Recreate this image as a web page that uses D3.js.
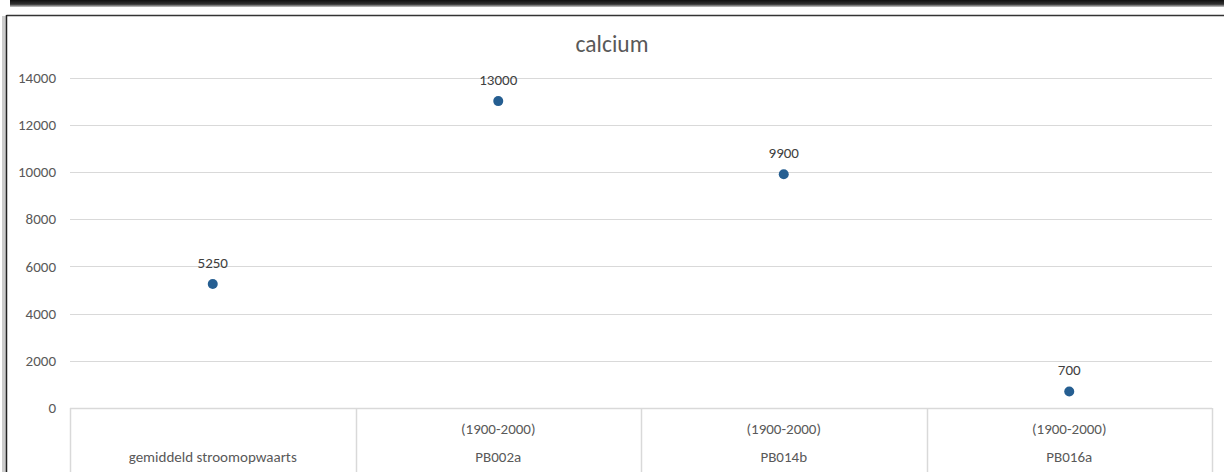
<!DOCTYPE html>
<html><head><meta charset="utf-8">
<script src="https://cdn.jsdelivr.net/npm/d3@7"></script>
<style>body{margin:0;background:#fff}svg{display:block}</style>
</head><body>
<svg id="c" width="1224" height="472"></svg>
<script>
const title = "calcium";
const categories = ["gemiddeld stroomopwaarts", "PB002a", "PB014b", "PB016a"];
const subLabels = ["", "(1900-2000)", "(1900-2000)", "(1900-2000)"];
const values = [5250, 13000, 9900, 700];
const yTicks = [0, 2000, 4000, 6000, 8000, 10000, 12000, 14000];

(function(){
const svg = d3.select("#c");
const font = "Carlito, 'Open Sans', 'Liberation Sans', sans-serif";

// frame decoration
const defs = svg.append("defs");
const g1 = defs.append("linearGradient").attr("id","topg").attr("x1",0).attr("y1",0).attr("x2",0).attr("y2",1);
g1.append("stop").attr("offset","0").attr("stop-color","#111");
g1.append("stop").attr("offset","0.6").attr("stop-color","#333");
g1.append("stop").attr("offset","1").attr("stop-color","#ccc");
svg.append("rect").attr("x",10).attr("y",0).attr("width",1214).attr("height",7).attr("fill","url(#topg)");
svg.append("rect").attr("x",2).attr("y",16).attr("width",5).attr("height",456).attr("fill","#ccc");
svg.append("line").attr("x1",6.5).attr("x2",1224).attr("y1",15.5).attr("y2",15.5).attr("stroke","#333").attr("stroke-width",1.5);
svg.append("line").attr("x1",6.5).attr("x2",6.5).attr("y1",15).attr("y2",472).attr("stroke","#222").attr("stroke-width",1.5);

const mLeft = 70, mRight = 1212, mTop = 77.5, mBottom = 408;
const x = d3.scaleBand().domain(categories).range([mLeft, mRight]);
const y = d3.scaleLinear().domain([0, 14000]).range([mBottom, mTop]);

svg.append("g").selectAll("line").data(yTicks.filter(d => d > 0)).join("line")
  .attr("x1", mLeft).attr("x2", mRight)
  .attr("y1", d => Math.round(y(d)) + 0.5).attr("y2", d => Math.round(y(d)) + 0.5)
  .attr("stroke", "#d9d9d9").attr("stroke-width", 1);

const yAxis = d3.axisLeft(y).tickValues(yTicks).tickFormat(d3.format("d")).tickSize(0).tickPadding(0);
const ya = svg.append("g").attr("transform", `translate(56,0)`).call(yAxis);
ya.select(".domain").remove();
ya.selectAll("text").attr("font-family", font).attr("font-size", 15).attr("fill", "#595959");

svg.append("line").attr("x1", mLeft).attr("x2", mRight).attr("y1", mBottom + 0.5).attr("y2", mBottom + 0.5)
  .attr("stroke", "#d9d9d9").attr("stroke-width", 1.5);
const bounds = categories.map(c => x(c)).concat([mRight]);
svg.append("g").selectAll("line").data(bounds).join("line")
  .attr("x1", d => Math.round(d) + 0.5).attr("x2", d => Math.round(d) + 0.5)
  .attr("y1", mBottom).attr("y2", 472)
  .attr("stroke", "#d9d9d9").attr("stroke-width", 1.5);

const cat = svg.append("g").attr("font-family", font).attr("font-size", 15).attr("fill", "#595959").attr("text-anchor", "middle");
cat.selectAll("text.sub").data(categories).join("text").attr("class","sub")
  .attr("x", d => x(d) + x.bandwidth() / 2).attr("y", 434)
  .text((d, i) => subLabels[i]);
cat.selectAll("text.main").data(categories).join("text").attr("class","main")
  .attr("x", d => x(d) + x.bandwidth() / 2).attr("y", 462)
  .text(d => d);

svg.append("text").attr("x", 612).attr("y", 52).attr("text-anchor", "middle")
  .attr("font-family", font).attr("font-size", 23.5).attr("fill", "#595959").text(title);

svg.append("g").selectAll("circle").data(values).join("circle")
  .attr("cx", (d, i) => x(categories[i]) + x.bandwidth() / 2)
  .attr("cy", d => y(d)).attr("r", 5).attr("fill", "#255e91");

svg.append("g").selectAll("text").data(values).join("text")
  .attr("x", (d, i) => x(categories[i]) + x.bandwidth() / 2)
  .attr("y", d => y(d) - 16).attr("text-anchor", "middle")
  .attr("font-family", font).attr("font-size", 15).attr("fill", "#404040")
  .text(d => d);
})();
</script>
</body></html>
